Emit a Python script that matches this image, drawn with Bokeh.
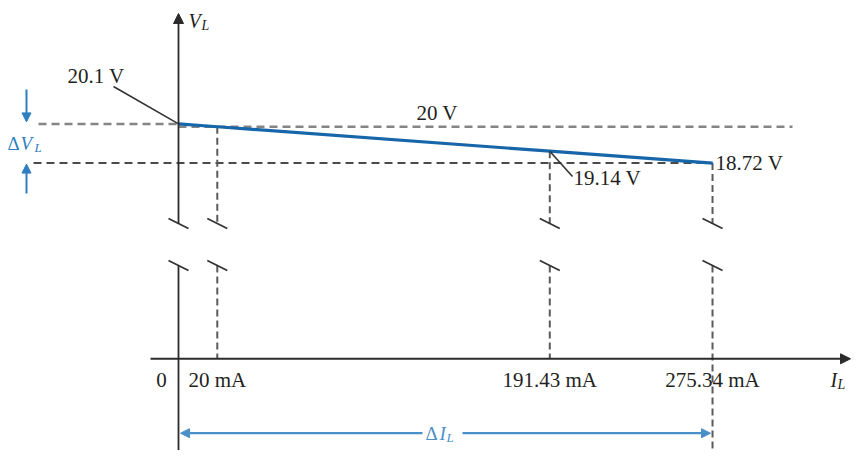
from bokeh.plotting import figure
from bokeh.models import Range1d, Arrow, NormalHead
from bokeh.core.properties import value
from bokeh.embed import file_html
from bokeh.resources import INLINE

# ---------------- data ----------------
currents_mA = [0, 20, 191.43, 275.34]
voltages_V = [20.1, 20.0, 19.14, 18.72]
current_labels = ["20 mA", "191.43 mA", "275.34 mA"]
origin_label = "0"
v_nl_label = "20.1 V"
v_20_label = "20 V"
v_mid_label = "19.14 V"
v_fl_label = "18.72 V"

# ---------------- layout ----------------
W, H = 851, 450
PAGE = 0
PX_PER_MA = 1.9395
PX_PER_V = 28.41
I0_PAGE = 178.0      # picture x of I = 0
V0_PAGE = 123.4      # picture y of V = voltages_V[0]
VREF = voltages_V[0]
TXT_SHIFT = 7.5      # baseline correction for svg text

def px_x(page_x):
    return (page_x - I0_PAGE) / PX_PER_MA

def px_y(page_y):
    return VREF - (page_y - V0_PAGE) / PX_PER_V

def dx(px):
    return px / PX_PER_MA

def dv(px):
    return px / PX_PER_V

x_range = Range1d(px_x(PAGE), px_x(PAGE + W))
y_range = Range1d(px_y(PAGE + H), px_y(PAGE))

V_AXIS = px_y(358.3)
V_BRK_TOP = px_y(223)
V_BRK_BOT = px_y(265)
V_TIP = px_y(13)
V_DI = px_y(432.7)
V_BOTTOM = y_range.start

SERIF = value("Liberation Serif")
TXT = "#231f20"
BLUE_LINE = "#1766a9"
BLUE_TXT = "#2f7fc0"
BLUE_ARR = "#4a90c8"
AX = "#2b2b2b"

p = figure(width=W, height=H, x_range=x_range, y_range=y_range,
           output_backend="svg", toolbar_location=None,
           x_axis_location=None, y_axis_location=None,
           min_border=0, min_border_left=0, min_border_right=0,
           min_border_top=0, min_border_bottom=0)
p.grid.visible = False
p.outline_line_color = None
p.background_fill_color = "white"
p.border_fill_color = "white"

# ---- dashed reference lines ----
i0, i20, imid, ifl = currents_mA
v_nl, v20, vmid, vfl = voltages_V

p.line([px_x(38), i0], [v_nl, v_nl], line_color="#858585", line_width=2.5, line_dash="8 5")
p.line([i0, px_x(792)], [v20, v20], line_color="#858585", line_width=2.5, line_dash="8 5")
p.line([px_x(33), ifl], [vfl, vfl], line_color="#4a4a4a", line_width=2, line_dash="8 5")

for xi, vi in zip(currents_mA[1:], voltages_V[1:]):
    p.line([xi, xi], [vi, V_BRK_TOP], line_color="#5a5a5a", line_width=2, line_dash="7 4")
    lower_end = V_BOTTOM if xi == ifl else V_AXIS
    p.line([xi, xi], [V_BRK_BOT, lower_end], line_color="#5a5a5a", line_width=2, line_dash="7 4")

# ---- axes ----
p.line([i0, i0], [V_BOTTOM, V_BRK_BOT], line_color=AX, line_width=1.8)
p.add_layout(Arrow(end=NormalHead(size=10, fill_color=AX, line_color=AX),
                   x_start=i0, y_start=V_BRK_TOP, x_end=i0, y_end=V_TIP,
                   line_color=AX, line_width=1.8))
p.add_layout(Arrow(end=NormalHead(size=10, fill_color=AX, line_color=AX),
                   x_start=px_x(150), y_start=V_AXIS, x_end=px_x(PAGE + W - 1), y_end=V_AXIS,
                   line_color=AX, line_width=2))

# ---- axis break marks ----
for xi in currents_mA:
    for vc in (V_BRK_TOP, V_BRK_BOT):
        p.line([xi - dx(10), xi + dx(10)], [vc + dv(5), vc - dv(5)],
               line_color="#333333", line_width=1.8)

# ---- load line ----
p.line(currents_mA, voltages_V, line_color=BLUE_LINE, line_width=3.2)

# ---- leader lines ----
p.line([px_x(113), i0], [px_y(86), v_nl], line_color="#333333", line_width=1.6)
p.line([imid, px_x(572)], [vmid, px_y(176)], line_color="#333333", line_width=1.6)

# ---- delta V arrows ----
xa = px_x(26)
p.add_layout(Arrow(end=NormalHead(size=9, fill_color=BLUE_TXT, line_color=BLUE_TXT),
                   x_start=xa, y_start=px_y(89), x_end=xa, y_end=v_nl + dv(2),
                   line_color=BLUE_TXT, line_width=2))
p.add_layout(Arrow(end=NormalHead(size=9, fill_color=BLUE_TXT, line_color=BLUE_TXT),
                   x_start=xa, y_start=px_y(193), x_end=xa, y_end=vfl - dv(1),
                   line_color=BLUE_TXT, line_width=2))

# ---- delta I arrows ----
p.add_layout(Arrow(end=NormalHead(size=9, fill_color=BLUE_ARR, line_color=BLUE_ARR),
                   x_start=px_x(422), y_start=V_DI, x_end=i0 + dx(2), y_end=V_DI,
                   line_color=BLUE_ARR, line_width=2.2))
p.add_layout(Arrow(end=NormalHead(size=9, fill_color=BLUE_ARR, line_color=BLUE_ARR),
                   x_start=px_x(462), y_start=V_DI, x_end=ifl - dx(2), y_end=V_DI,
                   line_color=BLUE_ARR, line_width=2.2))

# ---- texts ----
def ty(page_y):
    return px_y(page_y - TXT_SHIFT)

def txt(x, y, s, size="21px", color=TXT, align="left", style="normal"):
    p.text(x=[x], y=[y], text=[s], text_font=SERIF, text_font_size=value(size),
           text_color=color, text_align=align, text_baseline="alphabetic",
           text_font_style=style)

# tick labels
base_tick = ty(387)
p.text(x=currents_mA[1:], y=[base_tick] * 3, text=current_labels, text_font=SERIF,
       text_font_size=value("21px"), text_color=TXT, text_align="center",
       text_baseline="alphabetic")
txt(i0 - dx(17), base_tick, origin_label, align="center")

# voltage labels
txt(px_x(67), ty(83), v_nl_label)
txt(px_x(416), ty(120), v_20_label)
txt(px_x(573), ty(185), v_mid_label)
txt(ifl + dx(3), ty(170), v_fl_label)

# axis titles
txt(px_x(188), ty(28), "V", size="20px", style="italic")
txt(px_x(201), ty(32), "L", size="14px", style="italic")
txt(px_x(830), base_tick, "I", size="20px", style="italic")
txt(px_x(837), ty(391), "L", size="14px", style="italic")

# delta labels
txt(px_x(7), ty(150), "Δ", size="19px", color=BLUE_TXT)
txt(px_x(20), ty(150), "V", size="19px", color=BLUE_TXT, style="italic")
txt(px_x(34), ty(154), "L", size="13px", color=BLUE_TXT, style="italic")

txt(px_x(425), ty(440), "Δ", size="19px", color=BLUE_ARR)
txt(px_x(439), ty(440), "I", size="19px", color=BLUE_ARR, style="italic")
txt(px_x(446), ty(444), "L", size="13px", color=BLUE_ARR, style="italic")

open("out.html", "w").write(file_html(p, INLINE))
